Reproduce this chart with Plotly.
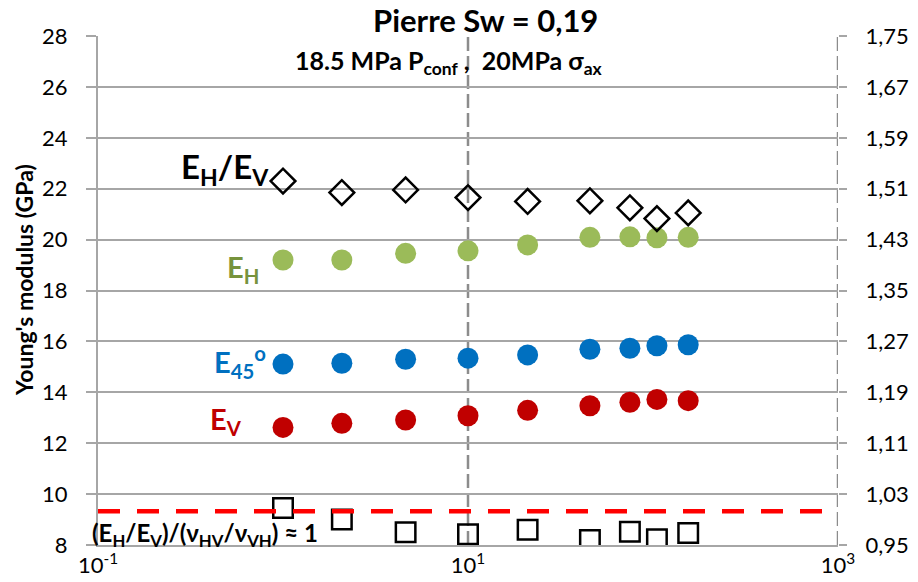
import plotly.graph_objects as go

# ---- data ----
freq = [1.0, 2.08, 4.6, 10.0, 21.0, 45.6, 75.0, 105.0, 155.0]
E_H = [19.20, 19.20, 19.46, 19.56, 19.79, 20.09, 20.11, 20.07, 20.09]
E_45 = [15.11, 15.14, 15.30, 15.34, 15.47, 15.69, 15.73, 15.83, 15.87]
E_V = [12.62, 12.78, 12.91, 13.08, 13.29, 13.47, 13.61, 13.72, 13.67]
ratio_EH_EV = [1.522, 1.504, 1.508, 1.496, 1.490, 1.491, 1.480, 1.463, 1.472]
ratio_nu = [1.008, 0.990, 0.970, 0.967, 0.974, 0.958, 0.971, 0.959, 0.969]
ref_ratio = 1.003

left_ticks = [8, 10, 12, 14, 16, 18, 20, 22, 24, 26, 28]
right_ticks = [0.95, 1.03, 1.11, 1.19, 1.27, 1.35, 1.43, 1.51, 1.59, 1.67, 1.75]
right_labels = ["0,95", "1,03", "1,11", "1,19", "1,27", "1,35", "1,43", "1,51", "1,59", "1,67", "1,75"]
x_tickvals = [0.1, 10, 1000]
x_ticktext = ["10<sup>-1</sup>", "10<sup>1</sup>", "10<sup>3</sup>"]
x_dashed = [10, 1000]

FONT = "Lato"
GRID = "#A6A6A6"
VGRID = "#8C8C8C"

fig = go.Figure()

fig.add_trace(go.Scatter(x=freq, y=E_H, mode="markers", yaxis="y",
                         marker=dict(symbol="circle", size=21, color="#9BBB59")))
fig.add_trace(go.Scatter(x=freq, y=E_45, mode="markers", yaxis="y",
                         marker=dict(symbol="circle", size=21, color="#0070C0")))
fig.add_trace(go.Scatter(x=freq, y=E_V, mode="markers", yaxis="y",
                         marker=dict(symbol="circle", size=21, color="#C00000")))
fig.add_trace(go.Scatter(x=freq, y=ratio_EH_EV, mode="markers", yaxis="y2",
                         marker=dict(symbol="diamond-open", size=19, color="black",
                                     line=dict(width=2.5, color="black"))))
fig.add_trace(go.Scatter(x=freq, y=ratio_nu, mode="markers", yaxis="y2",
                         marker=dict(symbol="square-open", size=19.5, color="black",
                                     line=dict(width=2.5, color="black"))))

for xv in x_dashed:
    fig.add_shape(type="line", xref="x", x0=xv, x1=xv, yref="paper", y0=0, y1=1,
                  line=dict(color=VGRID, width=2.5, dash="14px,5px"), layer="below")

fig.add_shape(type="line", xref="paper", x0=0, x1=1, yref="y2", y0=ref_ratio, y1=ref_ratio,
              line=dict(color="#FF0000", width=4.5, dash="22px,17px"))

W, H = 918, 582
L, R, T, B = 98, 80, 36, 37
pw, ph = W - L - R, H - T - B


def px(x):
    return (x - L) / pw


def py(y):
    return (H - B - y) / ph


def ann(text, x, y, size, color="black", angle=0):
    fig.add_annotation(text=text, xref="paper", yref="paper", x=px(x), y=py(y),
                       xanchor="center", yanchor="middle", showarrow=False,
                       textangle=angle,
                       font=dict(family=FONT, size=size, color=color, weight="bold"))


ann("Pierre Sw = 0,19", 485, 20, 31)
ann("18.5 MPa P<sub>conf</sub> ,  20MPa σ<sub>ax</sub>", 449, 62, 25)
ann("E<sub>H</sub>/E<sub>V</sub>", 225, 168, 33)
ann("E<sub>H</sub>", 243, 268, 29, "#77933C")
ann("E<sub>45</sub><sup>o</sup>", 240, 362, 29, "#0070C0")
ann("E<sub>V</sub>", 226, 420, 29, "#C00000")
ann("(E<sub>H</sub>/E<sub>V</sub>)/(ν<sub>HV</sub>/ν<sub>VH</sub>) ≈ 1", 205, 534, 24)
ann("Young's modulus (GPa)", 24, 280, 23, angle=-90)

fig.update_layout(
    width=W, height=H,
    margin=dict(l=L, r=R, t=T, b=B, autoexpand=False),
    paper_bgcolor="white", plot_bgcolor="white",
    showlegend=False,
    separators=",.",
    font=dict(family=FONT, size=22, color="black"),
    xaxis=dict(type="log", range=[-1, 3], tickvals=x_tickvals, ticktext=x_ticktext,
               showgrid=False, automargin=False,
               showline=True, linecolor=GRID, linewidth=1.5,
               ticks="", ticklabelstandoff=0, zeroline=False,
               tickfont=dict(family=FONT, size=22, color="black")),
    yaxis=dict(range=[8, 28], tickvals=left_ticks, showgrid=True, gridcolor=GRID, gridwidth=1.5,
               showline=True, linecolor=GRID, linewidth=2, ticks="outside", ticklen=10,
               tickcolor=GRID, tickwidth=1.5, ticklabelstandoff=14, zeroline=False,
               automargin=False,
               tickfont=dict(family=FONT, size=22, color="black")),
    yaxis2=dict(range=[0.95, 1.75], overlaying="y", side="right", tickvals=right_ticks,
                ticktext=right_labels, showgrid=False, showline=False, ticks="outside",
                ticklen=8, tickcolor=GRID, tickwidth=1.5, ticklabelstandoff=14, zeroline=False,
                automargin=False,
                tickfont=dict(family=FONT, size=22, color="black")),
)

fig.write_html("out.html")
